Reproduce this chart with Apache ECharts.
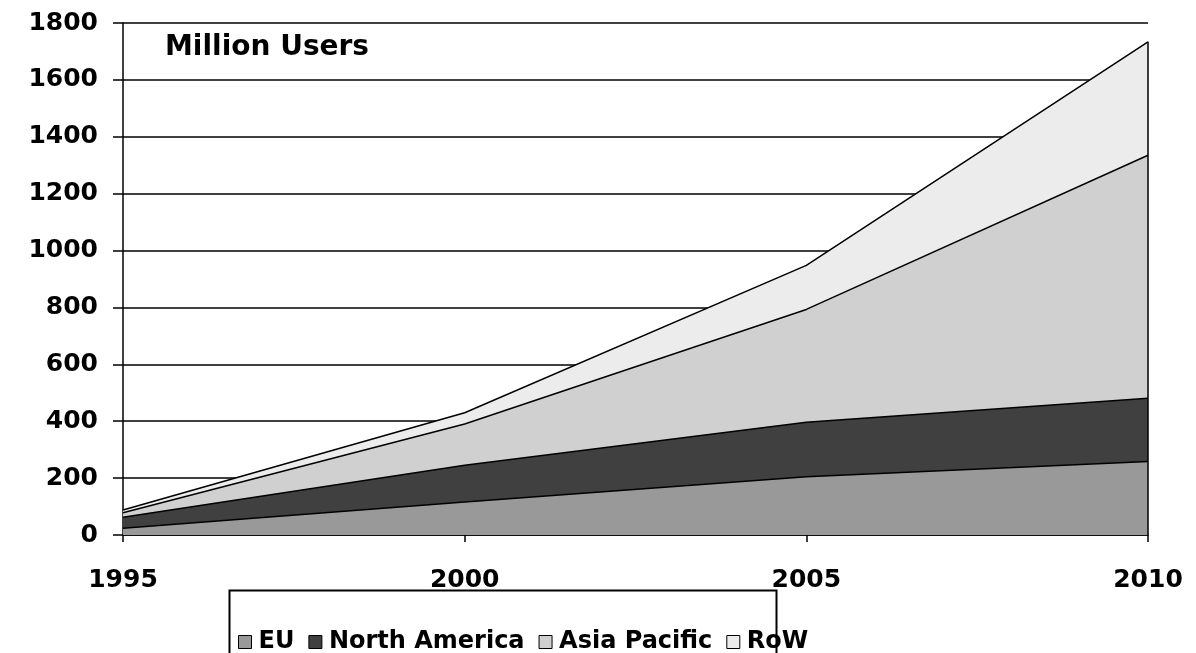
<!DOCTYPE html>
<html>
<head>
<meta charset="utf-8">
<script src="https://cdn.jsdelivr.net/npm/echarts@6/dist/echarts.min.js"></script>
<style>
  html, body { margin: 0; padding: 0; background: #ffffff; }
  #chart { width: 1196px; height: 653px; }
</style>
</head>
<body>
<div id="chart"></div>
<script>
// Internet users by region, million users (stacked)
const years = ['1995', '2000', '2005', '2010'];
const euUsers = [24, 116, 205, 258];
const northAmericaUsers = [38, 129, 191, 223];
const asiaPacificUsers = [16, 145, 397, 854];
const rowUsers = [10, 40, 155, 399];
const yTicks = { min: 0, max: 1800, step: 200 };

const FONT = '"DejaVu Sans", Verdana, sans-serif';
const lastIdx = years.length - 1;
const total2010 = euUsers[lastIdx] + northAmericaUsers[lastIdx] + asiaPacificUsers[lastIdx] + rowUsers[lastIdx];

function areaSeries(name, data, color) {
  return {
    name: name,
    type: 'line',
    stack: 'users',
    data: data,
    symbol: 'none',
    lineStyle: { color: '#000000', width: 1.5 },
    itemStyle: { color: color, borderColor: '#000000', borderWidth: 1 },
    areaStyle: { color: color, opacity: 1 },
    emphasis: { disabled: true },
    z: 3
  };
}

const series = [
  areaSeries('EU', euUsers, '#999999'),
  areaSeries('North America', northAmericaUsers, '#404040'),
  areaSeries('Asia Pacific', asiaPacificUsers, '#d0d0d0'),
  areaSeries('RoW', rowUsers, '#ececec')
];
// closing edge of the stacked areas at the last year
series[3].markLine = {
  silent: true,
  symbol: 'none',
  label: { show: false },
  lineStyle: { color: '#000000', width: 1.5, type: 'solid' },
  data: [[{ coord: [years[lastIdx], 0] }, { coord: [years[lastIdx], total2010] }]]
};

const chart = echarts.init(document.getElementById('chart'), null, { renderer: 'canvas' });
chart.setOption({
  animation: false,
  backgroundColor: '#ffffff',
  textStyle: { fontFamily: FONT },
  grid: { left: 123, right: 48, top: 23, bottom: 118, containLabel: false },
  title: {
    text: 'Million Users',
    left: 160,
    top: 29,
    textStyle: { fontFamily: FONT, fontWeight: 'bold', fontSize: 28, color: '#000000' }
  },
  legend: {
    left: 233,
    top: 625,
    itemWidth: 13,
    itemHeight: 13,
    itemGap: 14,
    itemStyle: { borderColor: '#000000', borderWidth: 1 },
    icon: 'rect',
    textStyle: { fontFamily: FONT, fontWeight: 'bold', fontSize: 24, color: '#000000', padding: [0, 0, 0, 2] },
    data: ['EU', 'North America', 'Asia Pacific', 'RoW'],
    selectedMode: false
  },
  graphic: [{
    type: 'rect',
    left: 227,
    top: 588,
    shape: { width: 547, height: 80 },
    style: { fill: 'none', stroke: '#000000', lineWidth: 2 },
    silent: true
  }],
  xAxis: {
    type: 'category',
    data: years,
    boundaryGap: false,
    axisLine: { show: true, lineStyle: { color: '#000000', width: 1.5 } },
    axisTick: { show: true, length: 7, lineStyle: { color: '#000000', width: 1.5 } },
    axisLabel: { color: '#000000', fontFamily: FONT, fontWeight: 'bold', fontSize: 25, margin: 33 },
    splitLine: { show: false }
  },
  yAxis: {
    type: 'value',
    min: yTicks.min,
    max: yTicks.max,
    interval: yTicks.step,
    axisLine: { show: true, lineStyle: { color: '#000000', width: 1.5 } },
    axisTick: { show: true, length: 10, lineStyle: { color: '#000000', width: 1.5 } },
    axisLabel: {
      color: '#000000', fontFamily: FONT, fontWeight: 'bold', fontSize: 25, margin: 25,
      formatter: function (v) { return String(v); }
    },
    splitLine: { show: true, lineStyle: { color: '#000000', width: 1.5 } }
  },
  series: series
});
</script>
</body>
</html>
